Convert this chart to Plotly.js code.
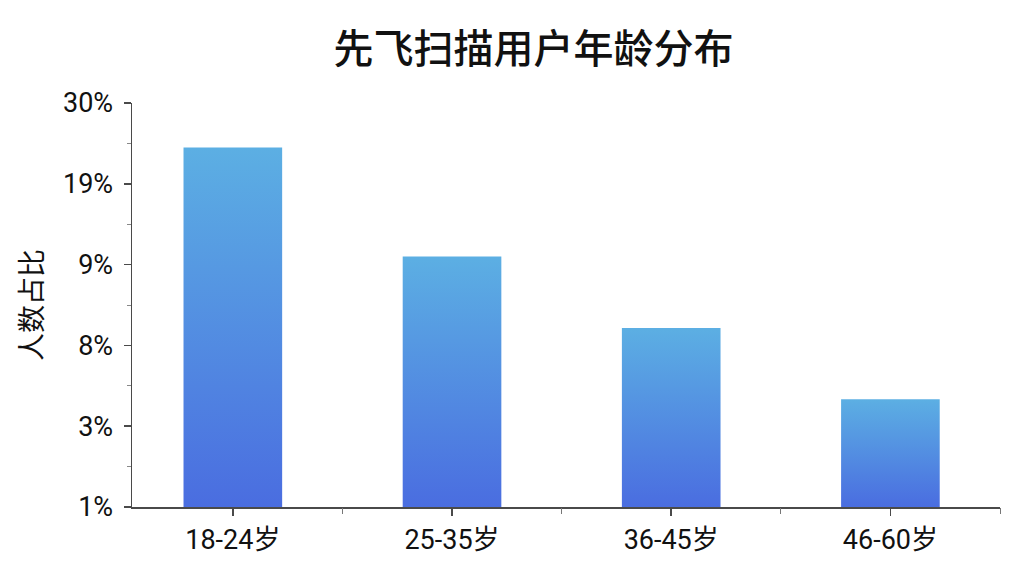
<!DOCTYPE html>
<html>
<head>
<meta charset="utf-8">
<script src="https://cdn.plot.ly/plotly-3.0.1.min.js"></script>
<style>
  html, body { margin: 0; padding: 0; background: #fff; }
  #chart { width: 1024px; height: 576px; }
</style>
</head>
<body>
<div id="chart"></div>
<script>
// age groups and bar heights (read against the evenly spaced axis, 0..30)
const ageGroups = ["18-24岁", "25-35岁", "36-45岁", "46-60岁"];
const shareValues = [26.7, 18.6, 13.3, 8.0];

// y tick labels as printed in the picture
const yTickPos = [0, 6, 12, 18, 24, 30];
const yTickText = ["1%", "3%", "8%", "9%", "19%", "30%"];
const yMinorPos = [3, 9, 15, 21, 27];

// boundary ticks on the x axis
const xBoundaryPos = [0.5, 1.5, 2.5, 3.5];

const font = "Roboto, Noto Sans CJK SC, sans-serif";
const cjkFont = "Noto Sans CJK SC, sans-serif";
const axisColor = "#4a4a4a";
const xRange = [-0.46, 3.5];

const traces = [
  {
    type: "bar",
    x: ageGroups,
    y: shareValues,
    marker: { color: "#5590e2", line: { width: 0 } },
    hoverinfo: "skip",
  },
  // invisible trace to bring up the boundary-tick axis
  {
    type: "scatter",
    x: xRange,
    y: [0, 0],
    xaxis: "x2",
    yaxis: "y",
    mode: "none",
    hoverinfo: "skip",
  },
];

const layout = {
  width: 1024,
  height: 576,
  margin: { l: 132, r: 24, t: 103, b: 69 },
  paper_bgcolor: "#ffffff",
  plot_bgcolor: "#ffffff",
  showlegend: false,
  bargap: 0.55,
  title: {
    text: "先飞扫描用户年龄分布",
    font: { family: cjkFont, size: 40, color: "#111", weight: 500 },
    x: 0.521,
    xanchor: "center",
    y: 0.915,
    yanchor: "middle",
  },
  xaxis: {
    type: "category",
    range: xRange,
    showline: true,
    linecolor: axisColor,
    linewidth: 1.5,
    showgrid: false,
    zeroline: false,
    ticks: "outside",
    ticklen: 7,
    tickwidth: 1.5,
    tickcolor: axisColor,
    tickfont: { family: font, size: 27, color: "#111" },
    ticklabelstandoff: 1,
  },
  xaxis2: {
    overlaying: "x",
    range: xRange,
    showline: false,
    showgrid: false,
    zeroline: false,
    tickmode: "array",
    tickvals: xBoundaryPos,
    showticklabels: false,
    ticks: "outside",
    ticklen: 6,
    tickwidth: 1,
    tickcolor: "#777",
    anchor: "y",
    side: "bottom",
  },
  yaxis: {
    range: [0, 30],
    showline: true,
    linecolor: axisColor,
    linewidth: 1.5,
    showgrid: false,
    zeroline: false,
    tickmode: "array",
    tickvals: yTickPos,
    ticktext: yTickText,
    ticks: "outside",
    ticklen: 7,
    tickwidth: 1.5,
    tickcolor: axisColor,
    tickfont: { family: font, size: 27, color: "#111" },
    ticklabelstandoff: 5,
    minor: {
      tickmode: "array",
      tickvals: yMinorPos,
      ticks: "outside",
      ticklen: 4,
      tickwidth: 1,
      tickcolor: "#888",
      showgrid: false,
    },
    title: {
      text: "人数占比",
      font: { family: cjkFont, size: 28, color: "#111" },
      standoff: 12,
    },
  },
};

Plotly.newPlot("chart", traces, layout, { displayModeBar: false, staticPlot: true }).then(function (gd) {
  // vertical gradient on each bar
  const svg = gd.querySelector("svg.main-svg");
  const ns = "http://www.w3.org/2000/svg";
  let defs = svg.querySelector("defs");
  if (!defs) {
    defs = document.createElementNS(ns, "defs");
    svg.insertBefore(defs, svg.firstChild);
  }
  const grad = document.createElementNS(ns, "linearGradient");
  grad.setAttribute("id", "barGrad");
  grad.setAttribute("x1", "0");
  grad.setAttribute("y1", "0");
  grad.setAttribute("x2", "0");
  grad.setAttribute("y2", "1");
  [["0%", "#5cafe3"], ["100%", "#4a6de0"]].forEach(function (s) {
    const stop = document.createElementNS(ns, "stop");
    stop.setAttribute("offset", s[0]);
    stop.setAttribute("stop-color", s[1]);
    grad.appendChild(stop);
  });
  defs.appendChild(grad);
  gd.querySelectorAll(".bars .point path").forEach(function (p) {
    p.style.fill = "url(#barGrad)";
  });
});
</script>
</body>
</html>
